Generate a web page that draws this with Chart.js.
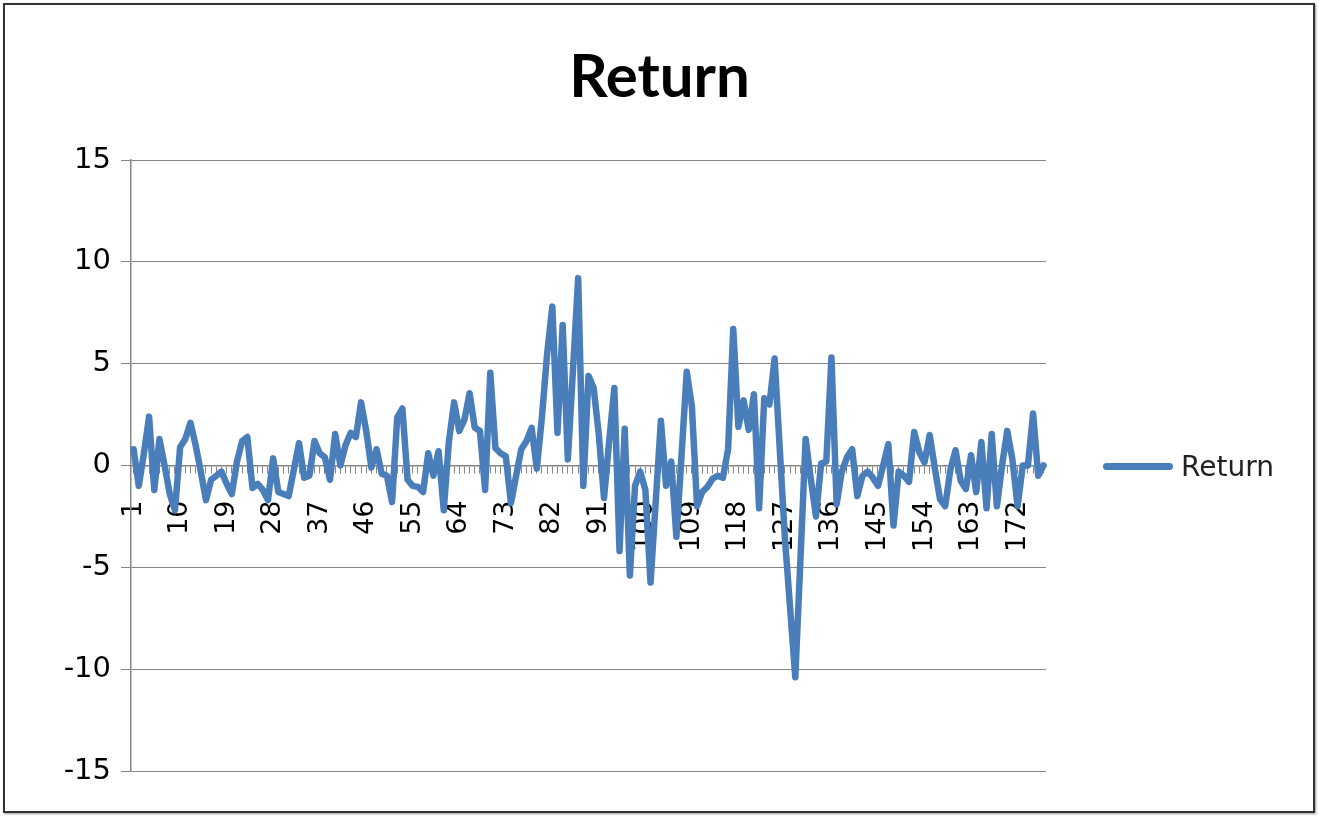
<!DOCTYPE html>
<html>
<head>
<meta charset="utf-8">
<title>Return</title>
<script src="https://cdn.jsdelivr.net/npm/chart.js@4.4.1/dist/chart.umd.min.js"></script>
<style>
  html, body { margin: 0; padding: 0; background: #fff; }
  #wrap { position: relative; width: 1319px; height: 816px; overflow: hidden; }
  #frame {
    position: absolute; left: 3px; top: 3px; right: 4px; bottom: 3px;
    border: 2px solid #333; box-shadow: 1px 1px 2px #999; pointer-events: none;
  }
  #legend {
    position: absolute; left: 1103px; top: 448px; height: 36px;
    display: flex; align-items: center; font: 28px "DejaVu Sans", sans-serif; color: #222;
  }
  #legend .swatch { width: 70px; height: 7px; border-radius: 3.5px; background: #4a7ebb; }
  #legend .text { margin-left: 8px; }
</style>
</head>
<body>
<div id="wrap">
  <canvas id="returnChart"></canvas>
  <div id="legend"><span class="swatch"></span><span class="text">Return</span></div>
  <div id="frame"></div>
</div>
<script>
// period numbers 1..177
const periods = Array.from({ length: 177 }, (_, i) => String(i + 1));

// return values
const returns = [
  0.8, -1.0, 0.6, 2.4, -1.2, 1.3, 0.0, -1.4, -2.2, 0.9,
  1.3, 2.1, 1.0, -0.3, -1.7, -0.7, -0.5, -0.3, -0.9, -1.4,
  0.2, 1.2, 1.4, -1.1, -0.9, -1.2, -1.7, 0.35, -1.3, -1.4,
  -1.5, -0.2, 1.1, -0.6, -0.5, 1.2, 0.6, 0.4, -0.7, 1.55,
  0.0, 1.0, 1.6, 1.4, 3.1, 1.7, -0.1, 0.8, -0.4, -0.5,
  -1.8, 2.35, 2.8, -0.7, -1.0, -1.05, -1.3, 0.6, -0.5, 0.7,
  -2.2, 1.2, 3.1, 1.7, 2.25, 3.55, 1.85, 1.7, -1.2, 4.55,
  0.85, 0.6, 0.45, -1.85, -0.5, 0.8, 1.2, 1.85, -0.15, 2.4,
  5.5, 7.8, 1.6, 6.9, 0.3, 4.7, 9.2, -1.0, 4.4, 3.8,
  1.5, -1.6, 1.2, 3.8, -4.2, 1.8, -5.4, -1.0, -0.3, -1.2,
  -5.75, -1.8, 2.2, -1.0, 0.2, -3.5, 0.5, 4.6, 2.9, -2.0,
  -1.3, -1.05, -0.65, -0.5, -0.6, 0.8, 6.7, 1.9, 3.2, 1.75,
  3.5, -2.1, 3.3, 3.0, 5.25, 0.8, -3.6, -7.0, -10.4, -4.6,
  1.3, -0.65, -2.5, 0.1, 0.2, 5.3, -1.9, -0.3, 0.4, 0.8,
  -1.5, -0.5, -0.3, -0.6, -1.0, 0.0, 1.05, -2.95, -0.3, -0.5,
  -0.8, 1.65, 0.65, 0.15, 1.5, -0.15, -1.65, -2.0, -0.2, 0.75,
  -0.75, -1.15, 0.5, -1.3, 1.15, -2.1, 1.55, -2.0, 0.0, 1.7,
  0.3, -2.0, 0.0, 0.0, 2.55, -0.5, 0.0
];

const yTicks = [-15, -10, -5, 0, 5, 10, 15];
const labelEvery = 9;

const lineBlue = '#4a7ebb';
const axisGray = '#868686';

const ctx = document.getElementById('returnChart');

new Chart(ctx, {
  type: 'line',
  data: {
    labels: periods,
    datasets: [{
      label: 'Return',
      data: returns,
      borderColor: lineBlue,
      backgroundColor: lineBlue,
      borderWidth: 6.5,
      borderJoinStyle: 'round',
      borderCapStyle: 'round',
      pointRadius: 0,
      tension: 0,
      fill: false
    }]
  },
  options: {
    responsive: true,
    maintainAspectRatio: false,
    animation: false,
    layout: {
      padding: { left: 0, right: 0, top: 0, bottom: 45 }
    },
    scales: {
      x: {
        type: 'category',
        position: { y: 0 },
        offset: true,
        grid: {
          display: true,
          drawOnChartArea: false,
          drawTicks: true,
          tickLength: 7,
          color: axisGray,
          lineWidth: 1
        },
        border: { display: true, color: axisGray, width: 1.5 },
        ticks: {
          autoSkip: false,
          maxRotation: 90,
          minRotation: 90,
          padding: 28,
          color: '#000',
          font: { family: 'DejaVu Sans', size: 27 },
          callback: function(value, index) {
            return index % labelEvery === 0 ? periods[index] : '';
          }
        }
      },
      y: {
        min: yTicks[0],
        max: yTicks[yTicks.length - 1],
        afterFit: function(scale) {
          scale.width = 131;
        },
        afterBuildTicks: function(scale) {
          scale.ticks = yTicks.map(v => ({ value: v }));
        },
        grid: {
          color: axisGray,
          lineWidth: 1,
          drawTicks: true,
          tickLength: 10
        },
        border: { display: true, color: axisGray, width: 1.5 },
        ticks: {
          padding: 10,
          color: '#000',
          font: { family: 'DejaVu Sans', size: 29 }
        }
      },
      // empty axis on the right that keeps room for the legend
      legendSpace: {
        position: 'right',
        display: true,
        grid: { display: false },
        border: { display: false },
        ticks: { display: false },
        afterFit: function(scale) {
          scale.width = 273;
        }
      }
    },
    plugins: {
      legend: { display: false },
      tooltip: { enabled: false },
      title: {
        display: true,
        text: 'Return',
        color: '#000',
        font: { family: 'Lato', size: 60, weight: 'bold' },
        padding: { top: 42, bottom: 46 }
      }
    }
  }
});
</script>
</body>
</html>
